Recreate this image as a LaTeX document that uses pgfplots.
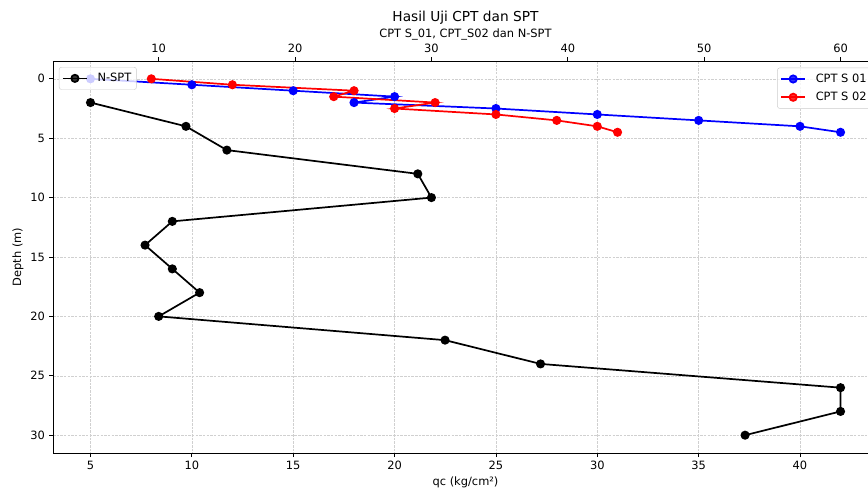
\documentclass[border=0pt]{standalone}
\usepackage{fontspec}
\setmainfont{DejaVu Sans}
\usepackage{pgfplots}
\pgfplotsset{compat=1.18}

\definecolor{gridgray}{RGB}{208,208,208}
\definecolor{legframe}{RGB}{204,204,204}

% 1 px of the reference = 0.875pt
\pgfplotsset{
  legend image code/.code={%
    \draw[mark repeat=2,mark phase=2,#1] plot coordinates {(0pt,0pt)(10.5pt,0pt)(21pt,0pt)};},
  chart/.style={
    scale only axis, width=721.9pt, height=343pt,
    at={(0,0)}, anchor=south west,
    ymin=-1.5, ymax=31.5, y dir=reverse,
    tick align=outside, major tick length=3.5pt,
    tick style={black, line width=0.7pt},
    axis line style={line width=0.7pt},
    tick label style={font=\fontsize{10}{12}\selectfont},
    /pgf/number format/assume math mode=true,
    legend style={draw=legframe, fill=white, fill opacity=0.8, text opacity=1,
      rounded corners=2pt, font=\fontsize{10}{12}\selectfont,
      cells={anchor=west}, inner xsep=2.5pt, inner ysep=3pt, row sep=2.5pt,
      column sep=6.5pt,
      nodes={inner sep=2pt, text height=7.5pt, text depth=2pt}},
  },
}

\begin{document}
\begin{tikzpicture}
\begin{scope}
\clip (-46.375pt,-34.125pt) rectangle (713.125pt,396.375pt);
% CPT soundings, bottom axis
\begin{axis}[chart,
  xmin=3.15, xmax=43.85,
  xtick={5,10,...,40}, ytick={0,5,...,30},
  xtick pos=left, ytick pos=left,
  grid=major, grid style={gridgray, line width=0.5pt, dash pattern=on 2.2pt off 1pt},
  xlabel={qc (kg/cm²)}, ylabel={Depth (m)},
  label style={font=\fontsize{10}{12}\selectfont},
  every axis x label/.style={at={(axis description cs:0.5,0)}, yshift=-25.8pt, anchor=center},
  every axis y label/.style={at={(axis description cs:0,0.5)}, xshift=-30.6pt, rotate=90, anchor=center},
  legend style={at={(1,1)}, anchor=north east, xshift=-5.25pt, yshift=-5.8pt},
]
\addplot[blue, line width=1.5pt, mark=*, mark size=3.2pt, mark options={fill=blue}]
  coordinates {(5,0)(10,0.5)(15,1)(20,1.5)(18,2)(25,2.5)(30,3)(35,3.5)(40,4)(42,4.5)};
\addplot[red, line width=1.5pt, mark=*, mark size=3.2pt, mark options={fill=red}]
  coordinates {(8,0)(12,0.5)(18,1)(17,1.5)(22,2)(20,2.5)(25,3)(28,3.5)(30,4)(31,4.5)};
\legend{CPT S 01, CPT S 02}
\end{axis}
% N-SPT, top axis
\begin{axis}[chart,
  xmin=2.25, xmax=62.75,
  axis x line*=top, hide y axis,
  xtick={10,20,...,60},
  legend style={at={(0,1)}, anchor=north west, xshift=5.25pt, yshift=-5.25pt},
]
\addplot[black, line width=1.5pt, mark=*, mark size=3.2pt, mark options={fill=black}]
  coordinates {(5,2)(12,4)(15,6)(29,8)(30,10)(11,12)(9,14)(11,16)(13,18)(10,20)
               (31,22)(38,24)(60,26)(60,28)(53,30)};
\legend{N-SPT}
\end{axis}
\end{scope}
\node[anchor=base, font=\fontsize{12}{14}\selectfont] at (360.9pt,377.5pt) {Hasil Uji CPT dan SPT};
\node[anchor=base, font=\fontsize{10}{12}\selectfont] at (360.9pt,363.6pt) {CPT S\_01, CPT\_S02 dan N-SPT};
\pgfresetboundingbox
\useasboundingbox (-46.375pt,-34.125pt) rectangle (713.125pt,396.375pt);
\end{tikzpicture}
\end{document}
